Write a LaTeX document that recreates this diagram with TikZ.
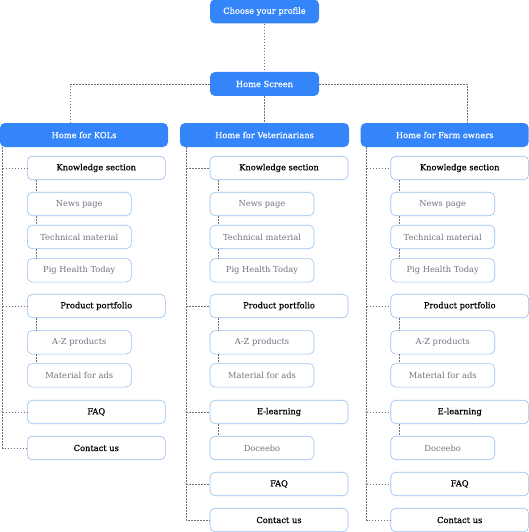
\documentclass[tikz,border=0pt]{standalone}
\usepackage{fontspec}
\setmainfont{DejaVu Serif}
\newfontfamily\medfont[FakeBold=0.5]{DejaVu Serif}
\usepackage{tikz}

\definecolor{headblue}{RGB}{52,133,250}
\definecolor{edgeblue}{RGB}{150,192,240}
\definecolor{subgray}{RGB}{112,114,128}
\definecolor{linkgray}{RGB}{110,110,115}

\begin{document}
\begin{tikzpicture}[x=1pt, y=-1pt,
	head/.style={fill=headblue, rounded corners=5pt, text=white, minimum height=24pt, inner sep=0pt, font=\medfont\fontsize{8.3}{10}\selectfont},
	item/.style={draw=edgeblue, line width=0.6pt, fill=white, rounded corners=5pt, minimum width=138pt, minimum height=23.5pt, inner sep=0pt, font=\medfont\fontsize{8.3}{10}\selectfont},
	sub/.style={item, minimum width=104pt, text=subgray, font=\fontsize{8.3}{10}\selectfont},
	link/.style={draw=linkgray, line width=0.6pt, dash pattern=on 1.5pt off 1.5pt}]

	\useasboundingbox (0, 0) rectangle (529, 532);

	\node[head, minimum width=109pt] (choose) at (264.5, 11.5) {Choose your profile};
	\node[head, minimum width=109pt] (home) at (264.5, 84) {Home Screen};

	\node[head, minimum width=168pt] (kol) at (84, 135) {Home for KOLs};
	\node[head, minimum width=169pt] (vet) at (264.5, 135) {Home for Veterinarians};
	\node[head, minimum width=168pt] (farm) at (444.7, 135) {Home for Farm owners};

	\node[item] (kolknow) at (96.3, 168) {Knowledge section};
	\node[sub] (kolnews) at (79.3, 204) {News page};
	\node[sub] (koltech) at (79.3, 237) {Technical material};
	\node[sub] (kolpig) at (79.3, 270.3) {Pig Health Today};
	\node[item] (kolprod) at (96.3, 306) {Product portfolio};
	\node[sub] (kolaz) at (79.3, 342.3) {A-Z products};
	\node[sub] (kolads) at (79.3, 375.3) {Material for ads};
	\node[item] (kolfaq) at (96.3, 412) {FAQ};
	\node[item] (kolcontact) at (96.3, 448) {Contact us};

	\node[item] (vetknow) at (279, 168) {Knowledge section};
	\node[sub] (vetnews) at (262, 204) {News page};
	\node[sub] (vettech) at (262, 237) {Technical material};
	\node[sub] (vetpig) at (262, 270.3) {Pig Health Today};
	\node[item] (vetprod) at (279, 306) {Product portfolio};
	\node[sub] (vetaz) at (262, 342.3) {A-Z products};
	\node[sub] (vetads) at (262, 375.3) {Material for ads};
	\node[item] (vetlearn) at (279, 412) {E-learning};
	\node[sub] (vetdoc) at (262, 448) {Doceebo};
	\node[item] (vetfaq) at (279, 484) {FAQ};
	\node[item] (vetcontact) at (279, 520) {Contact us};

	\node[item] (farmknow) at (459.7, 168) {Knowledge section};
	\node[sub] (farmnews) at (442.7, 204) {News page};
	\node[sub] (farmtech) at (442.7, 237) {Technical material};
	\node[sub] (farmpig) at (442.7, 270.3) {Pig Health Today};
	\node[item] (farmprod) at (459.7, 306) {Product portfolio};
	\node[sub] (farmaz) at (442.7, 342.3) {A-Z products};
	\node[sub] (farmads) at (442.7, 375.3) {Material for ads};
	\node[item] (farmlearn) at (459.7, 412) {E-learning};
	\node[sub] (farmdoc) at (442.7, 448) {Doceebo};
	\node[item] (farmfaq) at (459.7, 484) {FAQ};
	\node[item] (farmcontact) at (459.7, 520) {Contact us};

	\coordinate (kolup) at (70.7, 123);
	\coordinate (farmup) at (467, 123);
	\coordinate (koltrunk) at (2.7, 147);
	\coordinate (vettrunk) at (186, 147);
	\coordinate (farmtrunk) at (366.7, 147);

	\draw[link] (choose) -- (home);
	\draw[link] (home) -- (vet);
	\draw[link] (home) -| (kolup);
	\draw[link] (home) -| (farmup);

	\draw[link] (koltrunk) |- (kolcontact);
	\draw[link] (koltrunk |- kolknow) -- (kolknow);
	\draw[link] (koltrunk |- kolprod) -- (kolprod);
	\draw[link] (koltrunk |- kolfaq) -- (kolfaq);
	\draw[link] ([xshift=9pt]kolknow.south west) -- ([xshift=9pt]kolnews.north west);
	\draw[link] ([xshift=9pt]kolnews.south west) -- ([xshift=9pt]koltech.north west);
	\draw[link] ([xshift=9pt]koltech.south west) -- ([xshift=9pt]kolpig.north west);
	\draw[link] ([xshift=9pt]kolprod.south west) -- ([xshift=9pt]kolaz.north west);
	\draw[link] ([xshift=9pt]kolaz.south west) -- ([xshift=9pt]kolads.north west);

	\draw[link] (vettrunk) |- (vetcontact);
	\draw[link] (vettrunk |- vetknow) -- (vetknow);
	\draw[link] (vettrunk |- vetprod) -- (vetprod);
	\draw[link] (vettrunk |- vetlearn) -- (vetlearn);
	\draw[link] (vettrunk |- vetfaq) -- (vetfaq);
	\draw[link] ([xshift=9pt]vetknow.south west) -- ([xshift=9pt]vetnews.north west);
	\draw[link] ([xshift=9pt]vetnews.south west) -- ([xshift=9pt]vettech.north west);
	\draw[link] ([xshift=9pt]vettech.south west) -- ([xshift=9pt]vetpig.north west);
	\draw[link] ([xshift=9pt]vetprod.south west) -- ([xshift=9pt]vetaz.north west);
	\draw[link] ([xshift=9pt]vetaz.south west) -- ([xshift=9pt]vetads.north west);
	\draw[link] ([xshift=9pt]vetlearn.south west) -- ([xshift=9pt]vetdoc.north west);

	\draw[link] (farmtrunk) |- (farmcontact);
	\draw[link] (farmtrunk |- farmknow) -- (farmknow);
	\draw[link] (farmtrunk |- farmprod) -- (farmprod);
	\draw[link] (farmtrunk |- farmlearn) -- (farmlearn);
	\draw[link] (farmtrunk |- farmfaq) -- (farmfaq);
	\draw[link] ([xshift=9pt]farmknow.south west) -- ([xshift=9pt]farmnews.north west);
	\draw[link] ([xshift=9pt]farmnews.south west) -- ([xshift=9pt]farmtech.north west);
	\draw[link] ([xshift=9pt]farmtech.south west) -- ([xshift=9pt]farmpig.north west);
	\draw[link] ([xshift=9pt]farmprod.south west) -- ([xshift=9pt]farmaz.north west);
	\draw[link] ([xshift=9pt]farmaz.south west) -- ([xshift=9pt]farmads.north west);
	\draw[link] ([xshift=9pt]farmlearn.south west) -- ([xshift=9pt]farmdoc.north west);

\end{tikzpicture}
\end{document}
